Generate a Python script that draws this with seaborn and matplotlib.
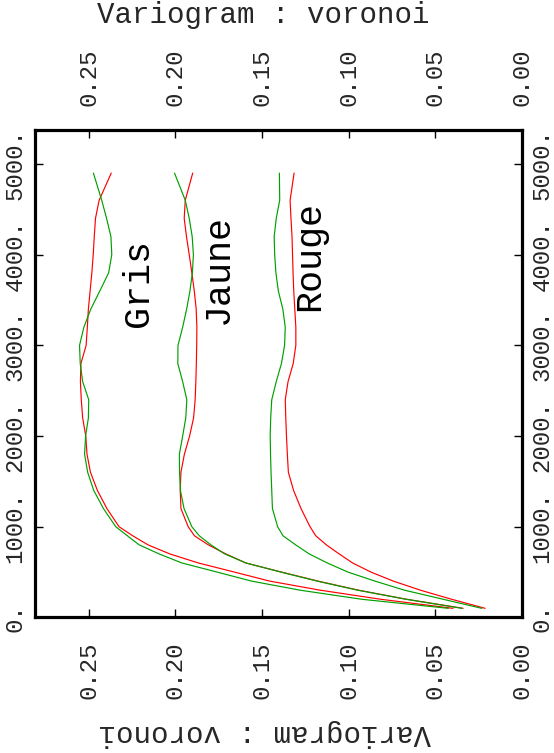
import numpy as np
import pandas as pd
import matplotlib
matplotlib.use("Agg")
import matplotlib.pyplot as plt
import seaborn as sns
from matplotlib.ticker import FuncFormatter

# ---- data ----
lags = [100, 200, 300, 400, 500, 600, 700, 800, 900, 1000, 1200, 1400, 1600, 1800,
        2000, 2200, 2400, 2600, 2800, 3000, 3200, 3400, 3600, 3800, 4000, 4200,
        4400, 4600, 4900]

gris_red = [0.0398, 0.0815, 0.1164, 0.1455, 0.1660, 0.1867, 0.2032, 0.2158, 0.2246,
            0.2325, 0.2395, 0.2450, 0.2490, 0.2510, 0.2517, 0.2535, 0.2543, 0.2548,
            0.2545, 0.2515, 0.2508, 0.2502, 0.2492, 0.2482, 0.2474, 0.2468, 0.2461,
            0.2440, 0.2370]
gris_green = [0.0425, 0.0925, 0.1280, 0.1560, 0.1760, 0.1962, 0.2094, 0.2209, 0.2277,
              0.2344, 0.2415, 0.2471, 0.2506, 0.2524, 0.2518, 0.2502, 0.2500, 0.2535,
              0.2549, 0.2553, 0.2528, 0.2488, 0.2436, 0.2385, 0.2367, 0.2372, 0.2397,
              0.2425, 0.2473]
jaune_red = [0.0340, 0.0666, 0.0943, 0.1176, 0.1388, 0.1593, 0.1709, 0.1810, 0.1890,
             0.1926, 0.1968, 0.1972, 0.1968, 0.1948, 0.1918, 0.1895, 0.1886, 0.1882,
             0.1879, 0.1877, 0.1876, 0.1880, 0.1891, 0.1905, 0.1920, 0.1936, 0.1949,
             0.1943, 0.1900]
jaune_green = [0.0345, 0.0670, 0.0948, 0.1182, 0.1392, 0.1593, 0.1715, 0.1795, 0.1862,
               0.1905, 0.1950, 0.1971, 0.1976, 0.1977, 0.1958, 0.1940, 0.1934, 0.1958,
               0.1986, 0.1985, 0.1958, 0.1935, 0.1916, 0.1902, 0.1896, 0.1903, 0.1920,
               0.1943, 0.2005]
rouge_red = [0.0213, 0.0406, 0.0586, 0.0742, 0.0872, 0.0977, 0.1055, 0.1129, 0.1190,
             0.1223, 0.1275, 0.1318, 0.1348, 0.1354, 0.1359, 0.1363, 0.1366, 0.1350,
             0.1320, 0.1305, 0.1305, 0.1311, 0.1317, 0.1321, 0.1324, 0.1327, 0.1333,
             0.1338, 0.1315]
rouge_green = [0.0232, 0.0455, 0.0678, 0.0848, 0.1005, 0.1123, 0.1228, 0.1306, 0.1379,
               0.1410, 0.1440, 0.1444, 0.1448, 0.1451, 0.1453, 0.1450, 0.1444, 0.1418,
               0.1388, 0.1370, 0.1366, 0.1380, 0.1406, 0.1420, 0.1427, 0.1430, 0.1418,
               0.1398, 0.1400]

curve_labels = ["Gris", "Jaune", "Rouge"]
label_pos_gamma = [0.2215, 0.1753, 0.1223]
label_pos_lag = [3686, 3840, 3985]

x_ticks = [0.00, 0.05, 0.10, 0.15, 0.20, 0.25]
y_ticks = [0, 1000, 2000, 3000, 4000, 5000]
axis_title = "Variogram : voronoi"

# ---- long-form table ----
series = {
    "gris_red": gris_red, "gris_green": gris_green,
    "jaune_red": jaune_red, "jaune_green": jaune_green,
    "rouge_red": rouge_red, "rouge_green": rouge_green,
}
rows = []
for name, vals in series.items():
    for d, g in zip(lags, vals):
        rows.append({"curve": name, "lag": d, "gamma": g})
df = pd.DataFrame(rows)
RED = "#ff0000"
GREEN = "#00a000"
palette = {k: (RED if k.endswith("red") else GREEN) for k in series}

sns.set_style("white")
plt.rcParams["font.family"] = ["Liberation Mono", "DejaVu Sans Mono"]

fig = plt.figure(figsize=(5.54, 7.53), dpi=100)
ax = fig.add_axes([35 / 554, 135.6 / 753, 487 / 554, 487.4 / 753])

sns.lineplot(data=df, x="gamma", y="lag", hue="curve", palette=palette,
             orient="y", estimator=None, legend=False, linewidth=0.85, ax=ax)

ax.set_xlim(0.281, 0.0)
ax.set_ylim(0, 5375)
ax.set_xlabel("")
ax.set_ylabel("")

ax.set_xticks(x_ticks)
ax.set_yticks(y_ticks)
ax.xaxis.set_major_formatter(FuncFormatter(lambda v, p: f"{v:.2f}"))
ax.yaxis.set_major_formatter(FuncFormatter(lambda v, p: f"{int(round(v))}."))

ax.tick_params(axis="x", which="major", direction="in", top=True, bottom=True,
               labeltop=True, labelbottom=True, length=6, width=1, color="black",
               labelsize=17.3, labelrotation=90, pad=17)
ax.tick_params(axis="y", which="major", direction="in", left=True, right=True,
               labelleft=True, labelright=True, length=6, width=1, color="black",
               labelsize=17.3, labelrotation=90, pad=6)
for lab in ax.get_yticklabels():
    lab.set_va("center")

for sp in ax.spines.values():
    sp.set_linewidth(2.3)
    sp.set_color("black")

for txt, gx, gy in zip(curve_labels, label_pos_gamma, label_pos_lag):
    ax.text(gx, gy, txt, rotation=90, ha="center", va="center",
            fontsize=26.5, color="black")

fig.text(0.476, 1 - 15 / 753, axis_title, ha="center", va="center", fontsize=21)
fig.text(0.478, 1 - 733 / 753, axis_title, ha="center", va="center",
         fontsize=21, rotation=180)

fig.savefig("out.png", dpi=100)
